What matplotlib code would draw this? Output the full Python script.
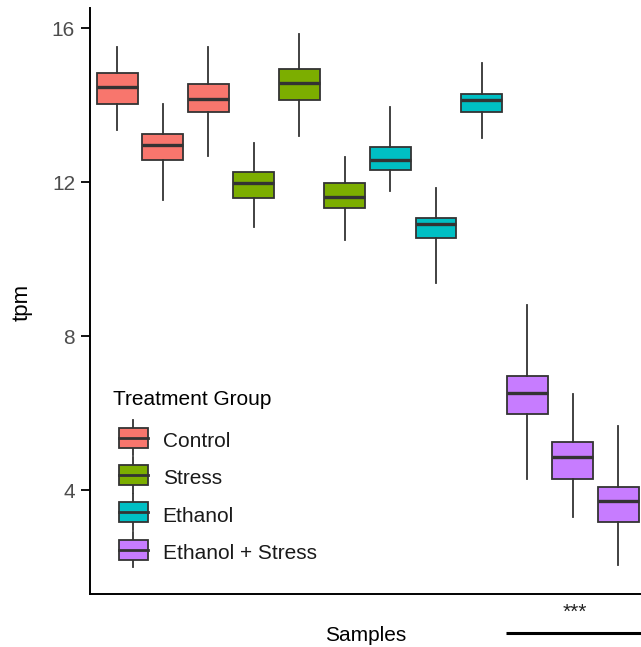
import matplotlib
matplotlib.use('Agg')
import matplotlib.pyplot as plt
from matplotlib.patches import Patch, Rectangle
from matplotlib.lines import Line2D
from matplotlib.legend_handler import HandlerBase
import matplotlib.transforms as mtransforms

plt.rcParams['font.family'] = ['Liberation Sans', 'DejaVu Sans']

# ---------- Data ----------
groups = ['Control', 'Stress', 'Ethanol', 'Ethanol + Stress']
sample_group = ['Control', 'Control', 'Control',
                'Stress', 'Stress', 'Stress',
                'Ethanol', 'Ethanol', 'Ethanol',
                'Ethanol + Stress', 'Ethanol + Stress', 'Ethanol + Stress']
whisker_low = [13.35, 11.53, 12.68, 10.84, 13.19, 10.49, 11.77, 9.38, 13.15, 4.29, 3.31, 2.05]
q1 = [14.03, 12.58, 13.83, 11.59, 14.15, 11.33, 12.31, 10.55, 13.82, 5.97, 4.30, 3.18]
medians = [14.47, 12.98, 14.17, 11.99, 14.59, 11.62, 12.57, 10.91, 14.13, 6.53, 4.87, 3.71]
q3 = [14.84, 13.26, 14.56, 12.27, 14.93, 11.97, 12.92, 11.08, 14.30, 6.96, 5.24, 4.09]
whisker_high = [15.51, 14.04, 15.51, 13.02, 15.84, 12.66, 13.96, 11.86, 15.10, 8.81, 6.51, 5.67]
y_ticks = [4, 8, 12, 16]

colors = {'Control': '#F8766D', 'Stress': '#7CAE00',
          'Ethanol': '#00BFC4', 'Ethanol + Stress': '#C77CFF'}
edge = '#333333'

# ---------- Legend handler drawing a small boxplot glyph ----------
class BoxHandler(HandlerBase):
    def create_artists(self, legend, orig_handle, xdescent, ydescent,
                       width, height, fontsize, trans):
        x0, y0 = -xdescent + 4.3, -ydescent + 1.8
        ext = 0.38 * fontsize
        xm = x0 + width / 2
        top = Line2D([xm, xm], [y0 + height, y0 + height + ext], color=edge, lw=1.3, transform=trans)
        bot = Line2D([xm, xm], [y0 - ext, y0], color=edge, lw=1.3, transform=trans)
        rect = Rectangle((x0, y0), width, height, facecolor=orig_handle.get_facecolor(),
                         edgecolor=edge, lw=1.3, transform=trans)
        med = Line2D([x0, x0 + width], [y0 + height / 2] * 2, color=edge, lw=2.0, transform=trans)
        return [top, bot, rect, med]

# ---------- Figure ----------
fig = plt.figure(figsize=(6.41, 6.47), dpi=100)
ax = fig.add_axes([90 / 641, 53 / 647, 555.4 / 641, 585.7 / 647])

stats = []
for i in range(len(medians)):
    stats.append({'whislo': whisker_low[i], 'q1': q1[i], 'med': medians[i],
                  'q3': q3[i], 'whishi': whisker_high[i], 'fliers': []})

positions = list(range(1, len(stats) + 1))
bp = ax.bxp(stats, positions=positions, widths=0.9, patch_artist=True,
            showfliers=False, showcaps=False,
            boxprops=dict(edgecolor=edge, linewidth=1.3),
            whiskerprops=dict(color=edge, linewidth=1.3),
            medianprops=dict(color=edge, linewidth=2.4, solid_capstyle='butt'))
for patch, g in zip(bp['boxes'], sample_group):
    patch.set_facecolor(colors[g])
    patch.set_zorder(2)
for m in bp['medians']:
    m.set_zorder(3)

ax.set_xlim(0.4, 12.6)
ax.set_ylim(1.3, 16.52)
ax.set_yticks(y_ticks)
ax.set_xticks([])
ax.tick_params(axis='y', labelsize=15, labelcolor='#4D4D4D', length=6.5, width=1.3,
               pad=4.3, color='black')

for s in ['top', 'right']:
    ax.spines[s].set_visible(False)
for s in ['left', 'bottom']:
    ax.spines[s].set_linewidth(1.4)
    ax.spines[s].set_color('black')

ax.set_ylabel('tpm', fontsize=16, color='black')
ax.yaxis.set_label_coords(-0.103, 0.498)
ax.set_xlabel('Samples', fontsize=15, color='black')
ax.xaxis.set_label_coords(0.497, -0.054)

# significance mark below the last group
trans = mtransforms.blended_transform_factory(ax.transData, ax.transAxes)
ax.text(11.05, -0.031, '***', transform=trans, ha='center', va='center',
        fontsize=15, color='#222222', clip_on=False)
ax.plot([9.54, 12.8], [-0.0666, -0.0666], transform=trans, color='black',
        lw=2.2, clip_on=False, solid_capstyle='butt')

# legend
handles = [Patch(facecolor=colors[g]) for g in groups]
leg = ax.legend(handles, groups, title='Treatment Group', loc='upper left',
                bbox_to_anchor=(0.041, 0.348), frameon=False, fontsize=15,
                title_fontsize=15, handlelength=1.39, handleheight=1.1,
                handletextpad=1.0, labelspacing=0.78, borderpad=0, borderaxespad=0,
                alignment='left', handler_map={Patch: BoxHandler()})
leg._legend_box.sep = 15.0
for t in leg.get_texts():
    t.set_color('#1a1a1a')

fig.savefig('out.png', dpi=100)
